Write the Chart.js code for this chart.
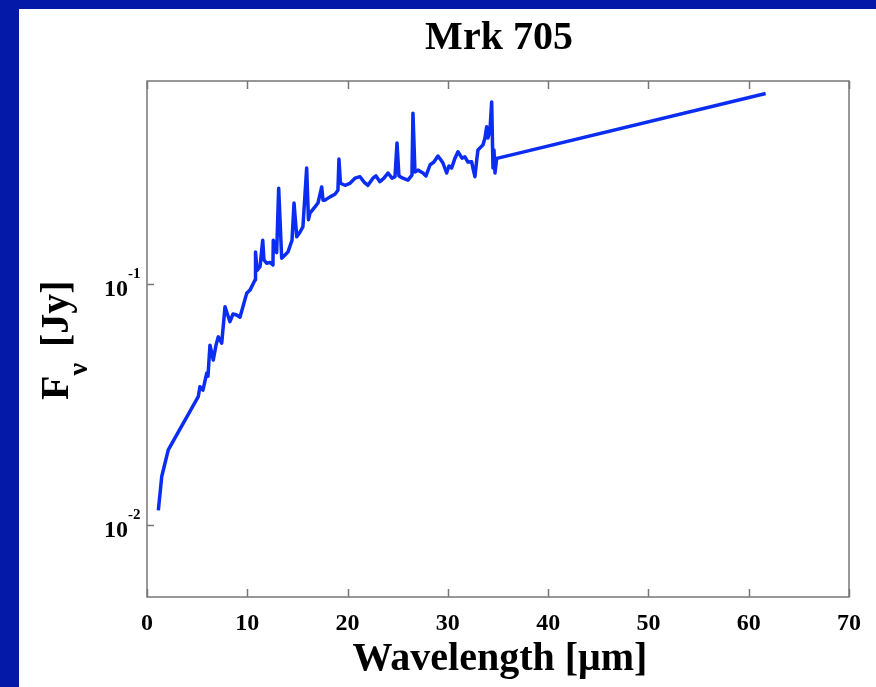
<!DOCTYPE html>
<html>
<head>
<meta charset="utf-8">
<script src="https://cdn.jsdelivr.net/npm/chart.js@4/dist/chart.umd.min.js"></script>
<style>
  html, body { margin: 0; padding: 0; background: #fff; }
  canvas { display: block; }
</style>
</head>
<body>
<canvas id="sed" width="876" height="687"></canvas>
<script>
// spectrum of Mrk 705 (wavelength in micron, flux in Jy)
const wavelength = [1.13, 1.47, 2.12, 5.11, 5.28, 5.58, 5.95, 6.08, 6.28, 6.61, 6.88, 7.11, 7.45, 7.78, 8.27, 8.57, 8.94, 9.27, 9.94, 10.27,
  10.77, 10.82, 10.97, 11.27, 11.54, 11.66, 11.93, 12.26, 12.56, 12.59, 12.93, 13.13, 13.43, 13.76, 14.06, 14.46, 14.66, 14.93, 15.25, 15.55,
  15.92, 16.10, 16.25, 16.75, 17.05, 17.42, 17.55, 17.75, 18.25, 18.74, 19.04, 19.14, 19.29, 19.74, 20.24, 20.74, 21.24, 21.64, 22.03, 22.53,
  22.83, 23.23, 23.63, 24.03, 24.43, 24.73, 24.93, 25.12, 25.52, 26.02, 26.42, 26.52, 26.72, 27.02, 27.52, 27.82, 28.22, 28.61, 29.01, 29.31,
  29.51, 29.88, 30.11, 30.38, 30.71, 31.01, 31.41, 31.70, 32.00, 32.37, 32.50, 32.70, 32.90, 33.00, 33.50, 33.70, 33.87, 34.00, 34.20, 34.37,
  34.50, 34.60, 34.70, 34.87, 35.00, 61.69];
const fluxDensity = [0.0115, 0.0159, 0.0205, 0.0341, 0.0375, 0.0363, 0.0426, 0.0415, 0.0558, 0.0484, 0.0558, 0.0604, 0.0569, 0.0805, 0.0698, 0.0751, 0.0744, 0.0729, 0.0915, 0.0944,
  0.104, 0.136, 0.114, 0.118, 0.152, 0.126, 0.122, 0.123, 0.120, 0.152, 0.135, 0.250, 0.128, 0.132, 0.136, 0.152, 0.217, 0.157, 0.164, 0.173,
  0.303, 0.185, 0.197, 0.209, 0.217, 0.253, 0.223, 0.223, 0.230, 0.236, 0.245, 0.330, 0.262, 0.257, 0.262, 0.275, 0.279, 0.265, 0.257, 0.275,
  0.281, 0.266, 0.275, 0.289, 0.275, 0.279, 0.385, 0.281, 0.275, 0.270, 0.283, 0.512, 0.292, 0.297, 0.289, 0.281, 0.312, 0.321, 0.340, 0.327,
  0.318, 0.289, 0.309, 0.303, 0.333, 0.354, 0.333, 0.337, 0.321, 0.322, 0.303, 0.279, 0.333, 0.360, 0.378, 0.404, 0.450, 0.404, 0.435, 0.570,
  0.303, 0.360, 0.289, 0.333, 0.333, 0.618];

const xTicks = [0, 10, 20, 30, 40, 50, 60, 70];
const yTicks = [0.01, 0.1];
const yTickExp = ["-2", "-1"];

const serif = '"Liberation Serif", "Times New Roman", serif';

const points = wavelength.map((w, i) => ({ x: w, y: fluxDensity[i] }));

// box, inward ticks, labels and titles
const framePlugin = {
  id: "frame",
  beforeDraw(chart) {
    const ctx = chart.ctx;
    ctx.save();
    ctx.fillStyle = "#fff";
    ctx.fillRect(0, 0, chart.width, chart.height);
    ctx.fillStyle = "#0519a8";
    ctx.fillRect(0, 0, 19, chart.height);
    ctx.fillRect(0, 0, chart.width, 9);
    ctx.restore();
  },
  afterDraw(chart) {
    const ctx = chart.ctx;
    const a = chart.chartArea;
    const xs = chart.scales.x;
    const ys = chart.scales.y;
    ctx.save();

    ctx.strokeStyle = "#777";
    ctx.lineWidth = 1.5;
    ctx.strokeRect(a.left, a.top, a.right - a.left, a.bottom - a.top);

    ctx.beginPath();
    xTicks.forEach(v => {
      const px = Math.round(xs.getPixelForValue(v)) + 0.5;
      ctx.moveTo(px, a.bottom); ctx.lineTo(px, a.bottom - 8);
      ctx.moveTo(px, a.top); ctx.lineTo(px, a.top + 8);
    });
    yTicks.forEach(v => {
      const py = Math.round(ys.getPixelForValue(v)) + 0.5;
      ctx.moveTo(a.left, py); ctx.lineTo(a.left + 7, py);
    });
    ctx.stroke();

    ctx.fillStyle = "#000";
    ctx.font = "bold 24px " + serif;
    ctx.textAlign = "center";
    ctx.textBaseline = "alphabetic";
    xTicks.forEach(v => {
      ctx.fillText(String(v), xs.getPixelForValue(v), a.bottom + 33);
    });

    yTicks.forEach((v, i) => {
      const py = ys.getPixelForValue(v);
      ctx.font = "bold 24px " + serif;
      ctx.textAlign = "right";
      ctx.fillText("10", a.left - 19, py + 11.5);
      ctx.font = "bold 15px " + serif;
      ctx.textAlign = "left";
      ctx.fillText(yTickExp[i], a.left - 19, py - 6);
    });

    const cx = (a.left + a.right) / 2;
    ctx.font = "bold 40px " + serif;
    ctx.textAlign = "center";
    ctx.fillText("Mrk 705", cx + 1, 49);
    ctx.fillText("Wavelength [\u03bcm]", cx + 2, 670);

    // rotated y title F_nu [Jy]
    ctx.translate(68, 400);
    ctx.rotate(-Math.PI / 2);
    ctx.textAlign = "left";
    ctx.font = "bold 40px " + serif;
    ctx.fillText("F", 0, 0);
    const wF = ctx.measureText("F").width;
    ctx.font = "bold 28px " + serif;
    ctx.fillText("\u03bd", wF, 19);
    ctx.font = "bold 40px " + serif;
    ctx.fillText("[Jy]", 53, 0);

    ctx.restore();
  }
};

new Chart(document.getElementById("sed"), {
  type: "line",
  data: {
    datasets: [{
      data: points,
      borderColor: "#0b2df2",
      borderWidth: 3.5,
      borderJoinStyle: "round",
      pointRadius: 0,
      tension: 0,
      fill: false
    }]
  },
  options: {
    responsive: false,
    animation: false,
    devicePixelRatio: 1,
    layout: { padding: { left: 147, top: 81, right: 27, bottom: 90 } },
    plugins: { legend: { display: false }, tooltip: { enabled: false } },
    scales: {
      x: { type: "linear", min: 0, max: 70, display: false },
      y: { type: "logarithmic", min: 0.00503, max: 0.696, bounds: "data", display: false }
    }
  },
  plugins: [framePlugin]
});
</script>
</body>
</html>
